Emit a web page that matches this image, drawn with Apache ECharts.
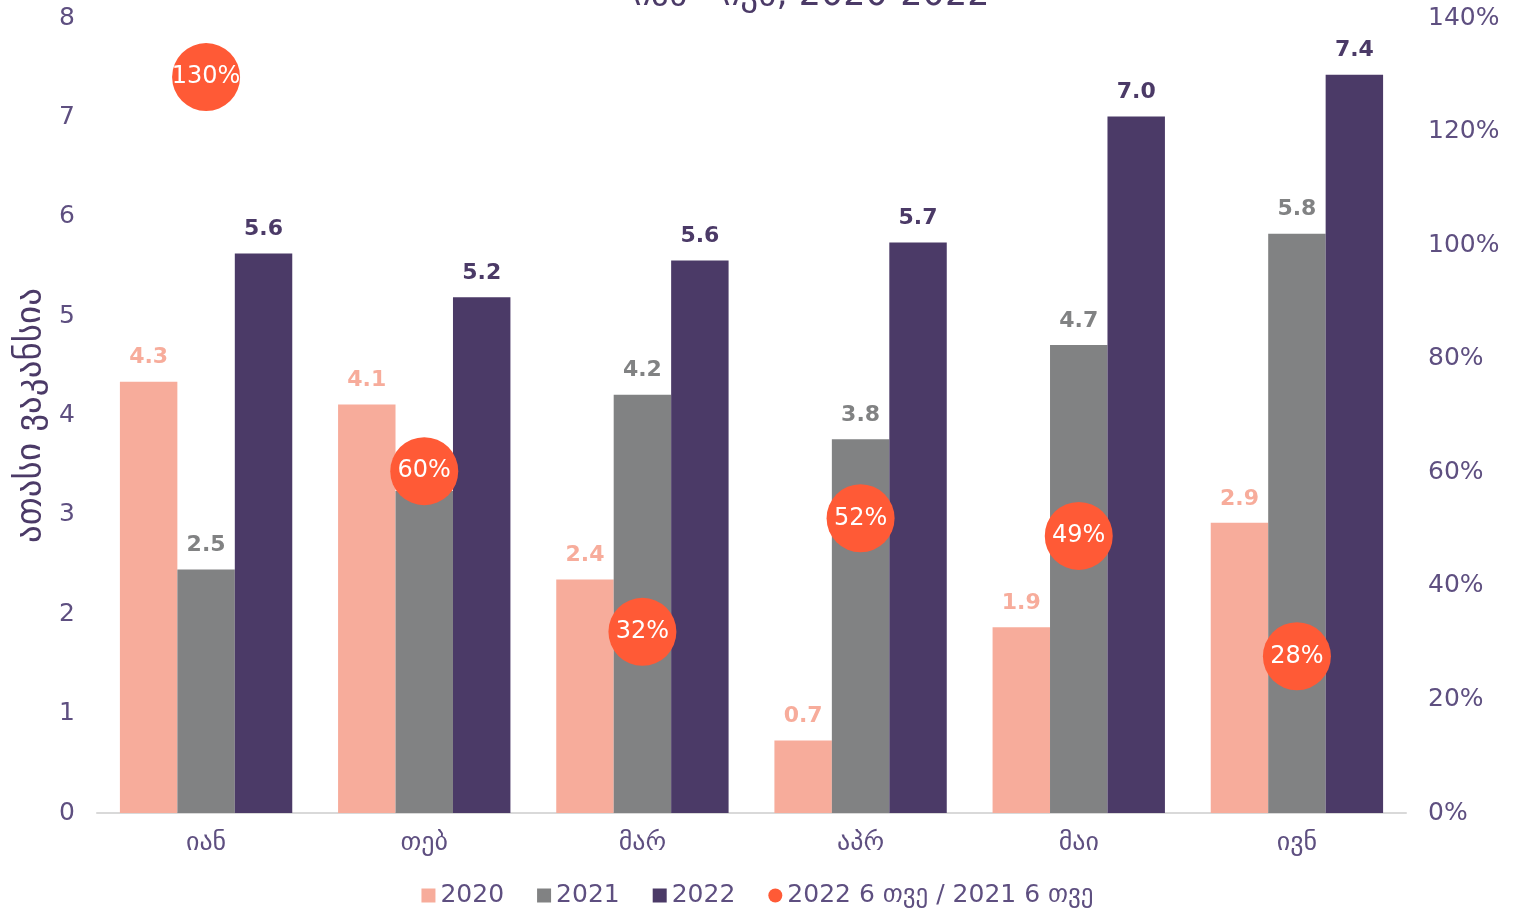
<!DOCTYPE html>
<html>
<head>
    <meta charset="utf-8">
    <title>ვაკანსიები</title>
    <script src="https://cdn.jsdelivr.net/npm/echarts@6/dist/echarts.min.js"></script>
    <style type="text/css">
        html, body { margin: 0; padding: 0; background: #fff; }
        #chart { width: 1515px; height: 909px; }
    </style>
</head>
<body>
    <div id="chart"></div>
    <script type="text/javascript">
        // data
        var months = ['იან', 'თებ', 'მარ', 'აპრ', 'მაი', 'ივნ'];
        var v2020 = [4.34, 4.11, 2.35, 0.73, 1.87, 2.92];
        var v2021 = [2.45, 3.24, 4.21, 3.76, 4.71, 5.83];
        var v2022 = [5.63, 5.19, 5.56, 5.74, 7.01, 7.43];
        var growth = [129.6, 60.2, 31.9, 51.9, 48.8, 27.6];

        var txt = '#5E4F80';
        var font = '"DejaVu Sans", "Noto Sans", sans-serif';

        function barSeries(name, data, color) {
            return {
                name: name,
                type: 'bar',
                data: data,
                barGap: '0%',
                barCategoryGap: '21%',
                itemStyle: { color: color },
                label: {
                    show: true,
                    position: 'top',
                    distance: 13,
                    color: color,
                    fontWeight: 'bold',
                    fontSize: 22,
                    fontFamily: font,
                    formatter: function (p) { return p.value.toFixed(1); }
                }
            };
        }

        var chart = echarts.init(document.getElementById('chart'));
        chart.setOption({
            animation: false,
            textStyle: { fontFamily: font },
            title: {
                text: 'იან - ივნ, 2020-2022',
                left: 628,
                top: -27,
                textStyle: { color: '#4B3A67', fontSize: 35, fontWeight: 'normal', fontFamily: font }
            },
            grid: { left: 97, right: 109, top: 18, bottom: 96 },
            legend: {
                bottom: -4,
                left: 'center',
                itemWidth: 14,
                itemHeight: 14,
                itemGap: 33,
                textStyle: { color: txt, fontSize: 25, fontFamily: font },
                data: [
                    { name: '2020', icon: 'rect' },
                    { name: '2021', icon: 'rect' },
                    { name: '2022', icon: 'rect' },
                    { name: '2022 6 თვე / 2021 6 თვე', icon: 'circle' }
                ]
            },
            xAxis: {
                type: 'category',
                data: months,
                axisLine: { lineStyle: { color: '#D9D9D9', width: 2 } },
                axisTick: { show: false },
                axisLabel: { color: txt, fontSize: 26, margin: 17 }
            },
            yAxis: [{
                type: 'value',
                min: 0,
                max: 8,
                interval: 1,
                name: 'ათასი ვაკანსია',
                nameLocation: 'middle',
                nameGap: 46,
                nameTextStyle: { color: '#4B3A67', fontSize: 35 },
                splitLine: { show: false },
                axisLine: { show: false },
                axisLabel: { color: txt, fontSize: 25, margin: 22 }
            }, {
                type: 'value',
                min: 0,
                max: 140,
                interval: 20,
                splitLine: { show: false },
                axisLine: { show: false },
                axisLabel: { color: txt, fontSize: 25, margin: 22, formatter: '{value}%' }
            }],
            series: [
                barSeries('2020', v2020, '#F7AC9B'),
                barSeries('2021', v2021, '#818283'),
                barSeries('2022', v2022, '#4B3A67'),
                {
                    name: '2022 6 თვე / 2021 6 თვე',
                    type: 'scatter',
                    yAxisIndex: 1,
                    data: growth,
                    symbolSize: 68,
                    z: 10,
                    itemStyle: { color: '#FF5A36', opacity: 1 },
                    label: {
                        show: true,
                        position: 'inside',
                        color: '#fff',
                        fontSize: 24,
                        formatter: function (p) { return Math.round(p.value) + '%'; }
                    }
                }
            ]
        });
    </script>
</body>
</html>
